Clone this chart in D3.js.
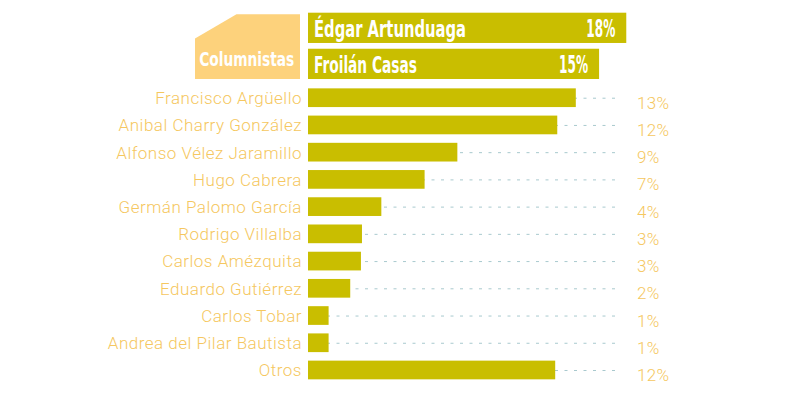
<!DOCTYPE html>
<html>
<head>
<meta charset="utf-8">
<script src="https://cdn.jsdelivr.net/npm/d3@7"></script>
<style>
  html, body { margin: 0; padding: 0; background: #ffffff; }
  svg { display: block; }
</style>
</head>
<body>
<svg id="chart" width="792" height="397"></svg>
<script>
// ---- data ----
const topNames = ["Édgar Artunduaga", "Froilán Casas"];
const topValues = [15.45, 14.13];          // bar lengths as drawn
const topLabels = ["18%", "15%"];

const names = ["Francisco Argüello", "Anibal Charry González", "Alfonso Vélez Jaramillo",
  "Hugo Cabrera", "Germán Palomo García", "Rodrigo Villalba", "Carlos Amézquita",
  "Eduardo Gutiérrez", "Carlos Tobar", "Andrea del Pilar Bautista", "Otros"];
const values = [13.0, 12.1, 7.25, 5.66, 3.56, 2.62, 2.57, 2.05, 1.0, 1.0, 12.0];
const labels = ["13%", "12%", "9%", "7%", "4%", "3%", "3%", "2%", "1%", "1%", "12%"];
const groupTitle = "Columnistas";

// ---- styles ----
const barColor = "#c9be00";
const labelColor = "#f5c760";
const boxColor = "#fdd27c";
const dotColor = "#a8c9ce";
const condFont = "'Liberation Sans Narrow', 'DejaVu Sans Condensed', 'Roboto', sans-serif";
const thinFont = "Roboto, 'Open Sans', sans-serif";

const svg = d3.select("#chart");

const x = d3.scaleLinear().domain([0, 20]).range([308, 308 + 412]);

const yTop = d3.scaleBand().domain(topNames).range([12.7, 79]).paddingInner(0.16).paddingOuter(0);
const y = d3.scaleBand().domain(names).range([84.1, 383.6]).paddingInner(0.313).paddingOuter(0.1565);

// Columnistas box
svg.append("path")
  .attr("d", "M236.5,14.3 L300,14.3 L300,79 L195,79 L195,38.5 Z")
  .attr("fill", boxColor);
svg.append("text")
  .attr("x", 246.7).attr("y", 65.5)
  .attr("text-anchor", "middle")
  .attr("font-family", condFont)
  .attr("font-weight", "bold")
  .attr("font-size", 20)
  .attr("textLength", 95).attr("lengthAdjust", "spacingAndGlyphs")
  .attr("fill", "#ffffff")
  .text(groupTitle);

// top bars
const tg = svg.append("g");
tg.selectAll("rect").data(topNames).join("rect")
  .attr("x", x(0)).attr("y", d => yTop(d))
  .attr("width", (d, i) => x(topValues[i]) - x(0))
  .attr("height", yTop.bandwidth())
  .attr("fill", barColor);
const topNameWidths = [152, 103];
tg.selectAll("text.name").data(topNames).join("text")
  .attr("class", "name")
  .attr("x", x(0) + 6)
  .attr("y", d => yTop(d) + yTop.bandwidth() / 2 + 8.8)
  .attr("font-family", condFont)
  .attr("font-weight", "bold")
  .attr("font-size", 23.5)
  .attr("textLength", (d, i) => topNameWidths[i]).attr("lengthAdjust", "spacingAndGlyphs")
  .attr("fill", "#ffffff")
  .text(d => d);
tg.selectAll("text.val").data(topNames).join("text")
  .attr("class", "val")
  .attr("x", (d, i) => x(topValues[i]) - 11)
  .attr("y", d => yTop(d) + yTop.bandwidth() / 2 + 8.8)
  .attr("text-anchor", "end")
  .attr("font-family", condFont)
  .attr("font-weight", "bold")
  .attr("font-size", 24.5)
  .attr("textLength", 29).attr("lengthAdjust", "spacingAndGlyphs")
  .attr("fill", "#ffffff")
  .text((d, i) => topLabels[i]);

// dotted guide lines
const g = svg.append("g");
g.selectAll("line").data(names).join("line")
  .attr("x1", x(0)).attr("x2", 616)
  .attr("y1", d => y(d) + y.bandwidth() / 2 + 0.5)
  .attr("y2", d => y(d) + y.bandwidth() / 2 + 0.5)
  .attr("stroke", dotColor)
  .attr("stroke-width", 1)
  .attr("stroke-dasharray", "3,6.5");

// bars
g.selectAll("rect").data(names).join("rect")
  .attr("x", x(0)).attr("y", d => y(d))
  .attr("width", (d, i) => x(values[i]) - x(0))
  .attr("height", y.bandwidth())
  .attr("fill", barColor);

// name labels
g.selectAll("text.name").data(names).join("text")
  .attr("class", "name")
  .attr("x", 302)
  .attr("y", d => y(d) + y.bandwidth() / 2 + 6.4)
  .attr("text-anchor", "end")
  .attr("font-family", thinFont)
  .attr("font-weight", 300)
  .attr("font-size", 17)
  .attr("letter-spacing", 0.5)
  .attr("fill", labelColor)
  .text(d => d);

// value labels
g.selectAll("text.val").data(names).join("text")
  .attr("class", "val")
  .attr("x", 637)
  .attr("y", d => y(d) + y.bandwidth() / 2 + 11)
  .attr("font-family", thinFont)
  .attr("font-weight", 300)
  .attr("font-size", 17)
  .attr("letter-spacing", 0.3)
  .attr("fill", labelColor)
  .text((d, i) => labels[i]);
</script>
</body>
</html>
